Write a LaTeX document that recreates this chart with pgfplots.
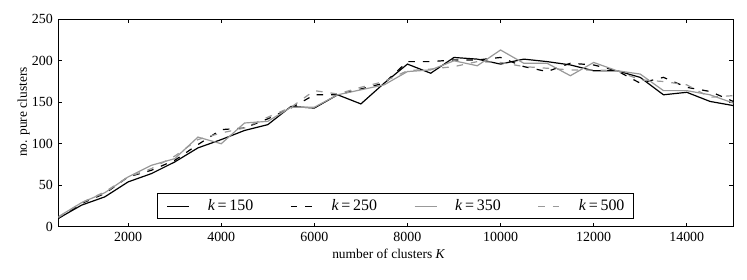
\documentclass[border=0pt]{standalone}
\usepackage{fontspec}
\setmainfont{Liberation Serif}
\usepackage{pgfplots}
\usepackage{pgfplotstable}
\pgfplotsset{compat=1.18}
\definecolor{lgray}{gray}{0.6}

\pgfplotstableread{
K k150 k250 k350 k500
500 10 10 12 11
1000 26 28 29 29
1500 36 40 41 42
2000 54 60 60 60
2500 64 68 74 70
3000 78 80 82 85
3500 95 99 108 105
4000 105 117 100 113
4500 116 119 125 119
5000 123 130 127 132
5500 145 143 144 144
6000 143 159 144 164
6500 159 159 159 160
7000 148 166 165 168
7500 173 173 171 175
8000 196 199 187 188
8500 185 199 189 190
9000 204 201 200 193
9500 202 201 194 199
10000 196 204 213 198
10500 202 193 197 193
11000 199 187 197 191
11500 195 197 182 189
12000 188 195 198 189
12500 188 188 188 188
13000 180 173 184 177
13500 159 180 164 175
14000 162 168 164 171
14500 151 163 159 156
15000 146 151 149 158
}\data

\begin{document}
\begin{tikzpicture}
\useasboundingbox (-58.3bp,-53.3bp) rectangle (688.7bp,226.7bp);
\begin{axis}[
  at={(0,0)}, anchor=south west,
  scale only axis, width=675bp, height=207.4bp,
  xmin=500, xmax=15000, ymin=0, ymax=250,
  xtick={2000,4000,...,14000}, ytick={0,50,...,250},
  tick align=inside, major tick length=4bp,
  scaled x ticks=false,
  /pgf/number format/assume math mode=true,
  /pgf/number format/set thousands separator={},
  ticklabel style={font=\fontsize{14}{16}\selectfont},
  yticklabel style={xshift=-2bp},
  xticklabel style={yshift=-2bp},
  axis line style={line width=1.2bp},
  every tick/.style={black, line width=0.8bp},
  xlabel={number of clusters \textit{K}},
  ylabel={no. pure clusters},
  label style={font=\fontsize{13.5}{15}\selectfont},
  xlabel style={at={(axis description cs:0.4896,-0.1524)}, anchor=base},
  ylabel style={at={(axis description cs:-0.0464,0.553)}, anchor=base},
  legend columns=4,
  legend image code/.code={\draw[#1] (0bp,0bp) -- (22bp,0bp);},
  legend style={at={(axis description cs:0.1462,0.0371)}, anchor=south west,
    draw=black, line width=1.2bp, inner xsep=9bp, inner ysep=6bp,
    font=\fontsize{16}{18}\selectfont,
    nodes={inner sep=0pt},
    /tikz/every odd column/.append style={column sep=18bp},
    /tikz/every even column/.append style={column sep=37bp}},
]
\addplot[black, line width=1.2bp, no markers] table[x=K,y=k150]{\data};
\addlegendentry{\textit{k}\,=\,150}
\addplot[black, line width=1.2bp, no markers, dash pattern=on 6.5bp off 8bp] table[x=K,y=k250]{\data};
\addlegendentry{\textit{k}\,=\,250}
\addplot[lgray, line width=1.2bp, no markers] table[x=K,y=k350]{\data};
\addlegendentry{\textit{k}\,=\,350}
\addplot[lgray, line width=1.2bp, no markers, dash pattern=on 6.5bp off 8bp] table[x=K,y=k500]{\data};
\addlegendentry{\textit{k}\,=\,500}
\end{axis}
\end{tikzpicture}
\end{document}
